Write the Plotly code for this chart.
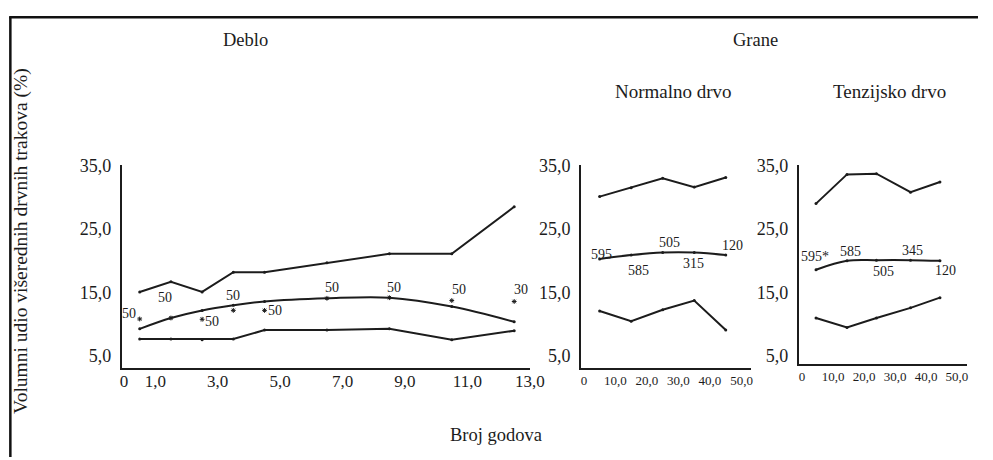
import plotly.graph_objects as go

# ---------------- data ----------------
# Deblo (stem)
deblo_x = [0.5, 1.5, 2.5, 3.5, 4.5, 6.5, 8.5, 10.5, 12.5]
deblo_max = [15.1, 16.7, 15.1, 18.2, 18.2, 19.7, 21.1, 21.1, 28.5]
deblo_fit = [9.3, 11.0, 12.2, 13.0, 13.6, 14.1, 14.2, 12.8, 10.4]
deblo_min = [7.7, 7.7, 7.6, 7.7, 9.1, 9.1, 9.3, 7.6, 9.0]
deblo_mean = [10.85, 11.0, 10.8, 12.2, 12.2, 14.1, 14.2, 13.75, 13.6]
deblo_n = ["50", "50", "50", "50", "50", "50", "50", "50", "30"]

# Grane - Normalno drvo
norm_x = [5, 15, 25, 35, 45]
norm_max = [30.1, 31.5, 33.0, 31.6, 33.1]
norm_fit = [20.3, 20.9, 21.3, 21.3, 20.9]
norm_min = [12.1, 10.5, 12.3, 13.75, 9.1]
norm_mean = [19.9, 20.0, 21.3, 21.3, 20.9]
norm_n = ["595", "585", "505", "315", "120"]

# Grane - Tenzijsko drvo
tenz_x = [4.5, 14.5, 24, 35, 44.5]
tenz_max = [29.0, 33.6, 33.7, 30.8, 32.4]
tenz_fit = [18.6, 20.0, 20.1, 20.1, 20.0]
tenz_min = [11.0, 9.5, 11.0, 12.6, 14.2]
tenz_mean = [18.6, 20.0, 20.1, 20.1, 20.0]
tenz_n = ["595*", "585", "505", "345", "120"]

y_ticks = [5, 15, 25, 35]
deblo_xticks = [0, 1, 3, 5, 7, 9, 11, 13]
grane_xticks = [0, 10, 20, 30, 40, 50]


def fmt(v):
    return "0" if v == 0 else f"{v:.1f}".replace(".", ",")


# ---------------- style ----------------
W, H = 993, 460
FONT = "'Times New Roman', 'Liberation Serif', 'DejaVu Serif', serif"
INK = "#1c1c1c"


def px(x):
    return x / W


def py(y):
    return 1 - y / H


fig = go.Figure()

panels = [
    ("x", "y", deblo_x, deblo_max, deblo_fit, deblo_min, deblo_mean, deblo_n, True),
    ("x2", "y2", norm_x, norm_max, norm_fit, norm_min, norm_mean, norm_n, False),
    ("x3", "y3", tenz_x, tenz_max, tenz_fit, tenz_min, tenz_mean, tenz_n, False),
]

label_shifts = {
    "x": [(-11, 5), (-6, 21), (10, -2), (0, 15), (10, 0), (5, 11), (5, 10), (7, 11), (7, 12)],
    "x2": [(2, 7), (7, -10), (7, 10), (-1, -11), (7, 10)],
    "x3": [(-1, 13), (3, 9), (7, -11), (2, 10), (6, -10)],
}

annotations = []
for xa, ya, xs, ymax, yfit, ymin, ymean, ns, show_star in panels:
    for ys, shape in ((ymax, "linear"), (ymin, "linear"), (yfit, "spline")):
        fig.add_trace(go.Scatter(
            x=xs, y=ys, xaxis=xa, yaxis=ya, mode="lines+markers",
            line=dict(color=INK, width=2, shape=shape, smoothing=1.0),
            marker=dict(size=3, color=INK), showlegend=False, hoverinfo="skip"))
    if show_star:
        fig.add_trace(go.Scatter(
            x=xs, y=ymean, xaxis=xa, yaxis=ya, mode="markers",
            marker=dict(symbol="asterisk-open", size=4, color=INK,
                        line=dict(color=INK, width=1)),
            showlegend=False, hoverinfo="skip"))
    for i, (xv, yv, t) in enumerate(zip(xs, ymean, ns)):
        dx, dy = label_shifts[xa][i]
        annotations.append(dict(
            x=xv, y=yv, xref=xa, yref=ya, text=t, showarrow=False,
            xshift=dx, yshift=dy,
            font=dict(family=FONT, size=14, color=INK)))


def txt(x, y, s, size=19, angle=0):
    annotations.append(dict(
        x=px(x), y=py(y), xref="paper", yref="paper", text=s, showarrow=False,
        xanchor="center", yanchor="middle", textangle=angle,
        font=dict(family=FONT, size=size, color=INK)))


txt(248, 31, "Deblo", 18.5)
txt(767, 31, "Grane", 18.5)
txt(683, 84, "Normalno drvo", 19)
txt(903, 84, "Tenzijsko drvo", 19)
txt(20, 238, "Volumni udio višerednih drvnih trakova (%)", 19.5, -90)
txt(503, 437, "Broj godova", 18.5)

axis_common = dict(showgrid=False, zeroline=False, showline=True, linecolor=INK,
                   linewidth=2, ticks="")

fig.update_layout(
    width=W, height=H, autosize=False,
    margin=dict(l=0, r=0, t=0, b=0),
    paper_bgcolor="white", plot_bgcolor="rgba(0,0,0,0)",
    separators=", ",
    font=dict(family=FONT, color=INK),
    annotations=annotations,
    xaxis=dict(axis_common, domain=[px(122), px(537)], range=[-0.07, 13.0],
               tickvals=deblo_xticks, ticktext=[fmt(v) for v in deblo_xticks],
               tickfont=dict(family=FONT, size=17), anchor="y",
               ticklabelstandoff=-3),
    yaxis=dict(axis_common, domain=[py(368), py(160)], range=[3.2, 35.0],
               tickvals=y_ticks, ticktext=[fmt(v) for v in y_ticks],
               tickfont=dict(family=FONT, size=18), anchor="x",
               ticklabelstandoff=5),
    xaxis2=dict(axis_common, domain=[px(589.3), px(761.7)], range=[-0.85, 52.9],
                tickvals=grane_xticks, ticktext=[fmt(v) for v in grane_xticks],
                tickfont=dict(family=FONT, size=13), anchor="y2"),
    yaxis2=dict(axis_common, domain=[py(368), py(160)], range=[3.2, 35.0],
                tickvals=y_ticks, ticktext=[fmt(v) for v in y_ticks],
                tickfont=dict(family=FONT, size=18), anchor="x2",
                ticklabelstandoff=5),
    xaxis3=dict(axis_common, domain=[px(810.7), px(981.7)], range=[-1.05, 53.2],
                tickvals=grane_xticks, ticktext=[fmt(v) for v in grane_xticks],
                tickfont=dict(family=FONT, size=13), anchor="y3"),
    yaxis3=dict(axis_common, domain=[py(364), py(160)], range=[3.81, 35.0],
                tickvals=y_ticks, ticktext=[fmt(v) for v in y_ticks],
                tickfont=dict(family=FONT, size=18), anchor="x3",
                ticklabelstandoff=5),
    shapes=[
        dict(type="line", xref="paper", yref="paper", x0=px(8.5), x1=px(8.5),
             y0=0, y1=py(7), line=dict(color="#111", width=2.5)),
        dict(type="line", xref="paper", yref="paper", x0=px(7.3), x1=1,
             y0=py(7.5), y1=py(7.5), line=dict(color="#111", width=2.5)),
    ],
)

fig.write_html(
    "out.html",
    config={"displayModeBar": False},
    post_script="document.body.style.margin='0';document.body.style.overflow='hidden';",
)
